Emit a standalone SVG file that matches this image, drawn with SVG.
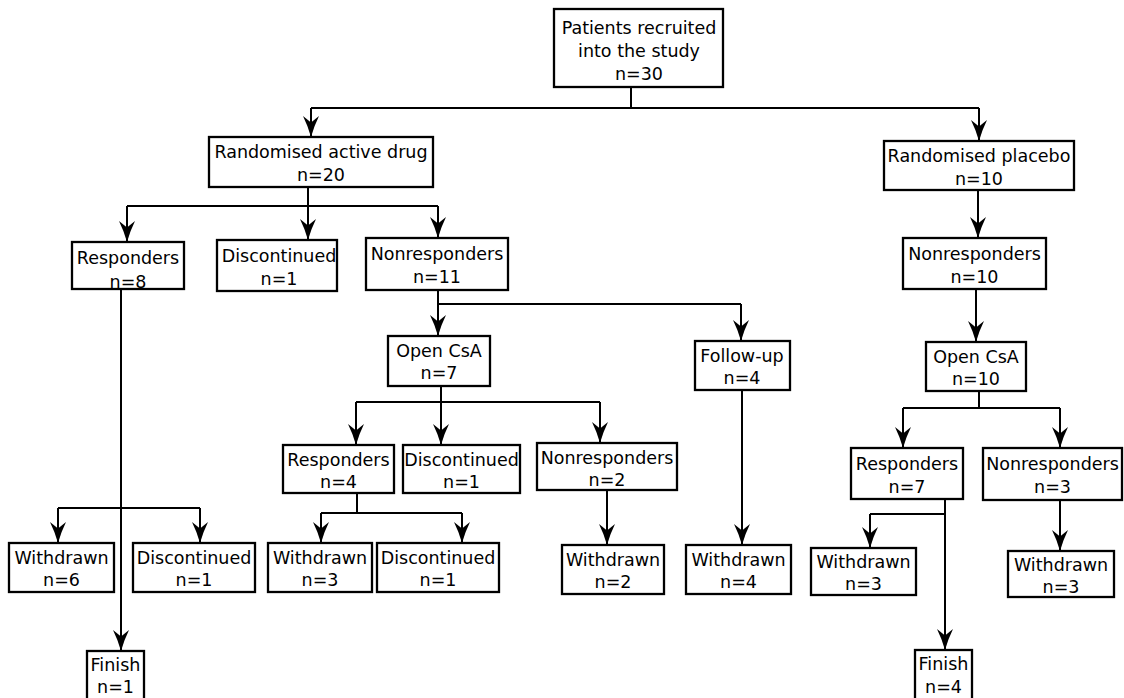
<svg xmlns="http://www.w3.org/2000/svg" width="1124" height="698" viewBox="0 0 1124 698">
<style>
.box{fill:#fff;stroke:#000;stroke-width:2.3}
text{font-family:"DejaVu Sans","Liberation Sans",sans-serif;font-size:17.5px;fill:#000;text-anchor:middle}
.c{fill:none;stroke:#000;stroke-width:2}
.a{fill:none;stroke:#000;stroke-width:2;marker-end:url(#ah)}
</style>
<defs>
<marker id="ah" markerUnits="userSpaceOnUse" markerWidth="24" markerHeight="18" refX="21" refY="8" orient="auto">
<path d="M21,8 Q9,4.5 0,0 L6.5,8 L0,16 Q9,11.5 21,8 Z" fill="#000"/>
</marker>
</defs>
<rect width="1124" height="698" fill="#fff"/>
<g id="connectors">
<path class="c" d="M631,87 V108 M311,108 H979"/>
<path class="a" d="M311,108 V137"/>
<path class="a" d="M979,108 V141"/>
<path class="c" d="M308,187 V206 M127,206 H438"/>
<path class="a" d="M127,206 V242"/>
<path class="a" d="M308,206 V240"/>
<path class="a" d="M438,206 V238"/>
<path class="a" d="M978,190 V238"/>
<path class="a" d="M121,289 V651"/>
<path class="c" d="M58,508 H200"/>
<path class="a" d="M58,508 V543"/>
<path class="a" d="M200,508 V543"/>
<path class="c" d="M438,290 V304 M438,304 H741"/>
<path class="a" d="M438,304 V336"/>
<path class="a" d="M741,304 V341"/>
<path class="a" d="M742,390 V545"/>
<path class="c" d="M441,386 V402 M356,402 H600"/>
<path class="a" d="M356,402 V445"/>
<path class="a" d="M441,402 V445"/>
<path class="a" d="M600,402 V443"/>
<path class="c" d="M357,493 V513 M321,513 H462"/>
<path class="a" d="M321,513 V543"/>
<path class="a" d="M462,513 V543"/>
<path class="a" d="M607,490 V545"/>
<path class="a" d="M976,289 V342"/>
<path class="c" d="M979,391 V408 M903,408 H1060"/>
<path class="a" d="M903,408 V448"/>
<path class="a" d="M1060,408 V448"/>
<path class="a" d="M945,499 V650"/>
<path class="c" d="M870,514 H945"/>
<path class="a" d="M870,514 V548"/>
<path class="a" d="M1060,500 V551"/>
</g>
<g id="n-top"><rect class="box" x="554" y="9" width="169" height="78"/><text x="639" y="34">Patients recruited</text><text x="639" y="57">into the study</text><text x="639" y="80">n=30</text></g>
<g id="n-active"><rect class="box" x="209" y="137" width="224" height="50"/><text x="321" y="158">Randomised active drug</text><text x="321" y="181">n=20</text></g>
<g id="n-placebo"><rect class="box" x="884" y="141" width="190" height="49"/><text x="979" y="162">Randomised placebo</text><text x="979" y="185">n=10</text></g>
<g id="n-resp1"><rect class="box" x="72" y="242" width="112" height="47"/><text x="128" y="264">Responders</text><text x="128" y="287.5">n=8</text></g>
<g id="n-disc1"><rect class="box" x="217" y="240" width="120" height="51"/><text x="279" y="262">Discontinued</text><text x="279" y="285">n=1</text></g>
<g id="n-nonresp1"><rect class="box" x="366" y="238" width="142" height="52"/><text x="437" y="260">Nonresponders</text><text x="437" y="283">n=11</text></g>
<g id="n-opencsa1"><rect class="box" x="388" y="336" width="102" height="50"/><text x="439" y="357">Open CsA</text><text x="439" y="379">n=7</text></g>
<g id="n-followup"><rect class="box" x="695" y="341" width="95" height="49"/><text x="742" y="362">Follow-up</text><text x="742" y="384">n=4</text></g>
<g id="n-resp2"><rect class="box" x="283" y="445" width="111" height="48"/><text x="338.5" y="466">Responders</text><text x="338.5" y="488">n=4</text></g>
<g id="n-disc2"><rect class="box" x="403" y="445" width="117" height="48"/><text x="461.5" y="466">Discontinued</text><text x="461.5" y="488">n=1</text></g>
<g id="n-nonresp2"><rect class="box" x="537" y="443" width="140" height="47"/><text x="607" y="464">Nonresponders</text><text x="607" y="486">n=2</text></g>
<g id="n-wd6"><rect class="box" x="9" y="543" width="105" height="49"/><text x="61.5" y="564">Withdrawn</text><text x="61.5" y="586">n=6</text></g>
<g id="n-disc3"><rect class="box" x="133" y="543" width="122" height="49"/><text x="194" y="564">Discontinued</text><text x="194" y="586">n=1</text></g>
<g id="n-finish1"><rect class="box" x="87" y="651" width="57" height="50"/><text x="115.5" y="671">Finish</text><text x="115.5" y="693">n=1</text></g>
<g id="n-wd3a"><rect class="box" x="268" y="543" width="104" height="49"/><text x="320" y="564">Withdrawn</text><text x="320" y="586">n=3</text></g>
<g id="n-disc4"><rect class="box" x="377" y="543" width="122" height="49"/><text x="438" y="564">Discontinued</text><text x="438" y="586">n=1</text></g>
<g id="n-wd2"><rect class="box" x="562" y="545" width="102" height="49"/><text x="613" y="566">Withdrawn</text><text x="613" y="588">n=2</text></g>
<g id="n-wd4"><rect class="box" x="686" y="545" width="105" height="49"/><text x="738.5" y="566">Withdrawn</text><text x="738.5" y="588">n=4</text></g>
<g id="n-nonresp-p"><rect class="box" x="903" y="238" width="143" height="51"/><text x="974.5" y="260">Nonresponders</text><text x="974.5" y="283">n=10</text></g>
<g id="n-opencsa2"><rect class="box" x="926" y="342" width="100" height="49"/><text x="976" y="363">Open CsA</text><text x="976" y="385">n=10</text></g>
<g id="n-resp3"><rect class="box" x="851" y="448" width="112" height="51"/><text x="907" y="470">Responders</text><text x="907" y="493">n=7</text></g>
<g id="n-nonresp3"><rect class="box" x="983" y="448" width="139" height="52"/><text x="1052.5" y="470">Nonresponders</text><text x="1052.5" y="493">n=3</text></g>
<g id="n-wd3b"><rect class="box" x="811" y="548" width="105" height="47"/><text x="863.5" y="568">Withdrawn</text><text x="863.5" y="590">n=3</text></g>
<g id="n-wd3c"><rect class="box" x="1008" y="551" width="106" height="46"/><text x="1061" y="571">Withdrawn</text><text x="1061" y="593">n=3</text></g>
<g id="n-finish4"><rect class="box" x="915" y="650" width="57" height="50"/><text x="943.5" y="670">Finish</text><text x="943.5" y="693">n=4</text></g>
</svg>
